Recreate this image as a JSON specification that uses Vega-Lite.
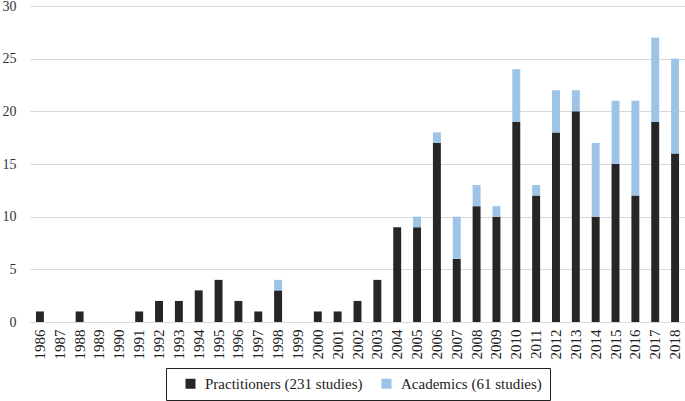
{
  "$schema": "https://vega.github.io/schema/vega-lite/v6.json",
  "width": 655,
  "height": 316,
  "autosize": "none",
  "padding": {"left": 30, "top": 6, "right": 0, "bottom": 79},
  "background": "white",
  "config": {
    "view": {"stroke": null},
    "font": "Liberation Serif",
    "axis": {"labelFont": "Liberation Serif", "labelColor": "#333333"},
    "legend": {"labelFont": "Liberation Serif"}
  },
  "data": {
    "values": [
      {"year": "1986", "series": "Practitioners (231 studies)", "n": 1},
      {"year": "1987", "series": "Practitioners (231 studies)", "n": 0},
      {"year": "1988", "series": "Practitioners (231 studies)", "n": 1},
      {"year": "1989", "series": "Practitioners (231 studies)", "n": 0},
      {"year": "1990", "series": "Practitioners (231 studies)", "n": 0},
      {"year": "1991", "series": "Practitioners (231 studies)", "n": 1},
      {"year": "1992", "series": "Practitioners (231 studies)", "n": 2},
      {"year": "1993", "series": "Practitioners (231 studies)", "n": 2},
      {"year": "1994", "series": "Practitioners (231 studies)", "n": 3},
      {"year": "1995", "series": "Practitioners (231 studies)", "n": 4},
      {"year": "1996", "series": "Practitioners (231 studies)", "n": 2},
      {"year": "1997", "series": "Practitioners (231 studies)", "n": 1},
      {"year": "1998", "series": "Practitioners (231 studies)", "n": 3},
      {"year": "1999", "series": "Practitioners (231 studies)", "n": 0},
      {"year": "2000", "series": "Practitioners (231 studies)", "n": 1},
      {"year": "2001", "series": "Practitioners (231 studies)", "n": 1},
      {"year": "2002", "series": "Practitioners (231 studies)", "n": 2},
      {"year": "2003", "series": "Practitioners (231 studies)", "n": 4},
      {"year": "2004", "series": "Practitioners (231 studies)", "n": 9},
      {"year": "2005", "series": "Practitioners (231 studies)", "n": 9},
      {"year": "2006", "series": "Practitioners (231 studies)", "n": 17},
      {"year": "2007", "series": "Practitioners (231 studies)", "n": 6},
      {"year": "2008", "series": "Practitioners (231 studies)", "n": 11},
      {"year": "2009", "series": "Practitioners (231 studies)", "n": 10},
      {"year": "2010", "series": "Practitioners (231 studies)", "n": 19},
      {"year": "2011", "series": "Practitioners (231 studies)", "n": 12},
      {"year": "2012", "series": "Practitioners (231 studies)", "n": 18},
      {"year": "2013", "series": "Practitioners (231 studies)", "n": 20},
      {"year": "2014", "series": "Practitioners (231 studies)", "n": 10},
      {"year": "2015", "series": "Practitioners (231 studies)", "n": 15},
      {"year": "2016", "series": "Practitioners (231 studies)", "n": 12},
      {"year": "2017", "series": "Practitioners (231 studies)", "n": 19},
      {"year": "2018", "series": "Practitioners (231 studies)", "n": 16},
      {"year": "1998", "series": "Academics (61 studies)", "n": 1},
      {"year": "2005", "series": "Academics (61 studies)", "n": 1},
      {"year": "2006", "series": "Academics (61 studies)", "n": 1},
      {"year": "2007", "series": "Academics (61 studies)", "n": 4},
      {"year": "2008", "series": "Academics (61 studies)", "n": 2},
      {"year": "2009", "series": "Academics (61 studies)", "n": 1},
      {"year": "2010", "series": "Academics (61 studies)", "n": 5},
      {"year": "2011", "series": "Academics (61 studies)", "n": 1},
      {"year": "2012", "series": "Academics (61 studies)", "n": 4},
      {"year": "2013", "series": "Academics (61 studies)", "n": 2},
      {"year": "2014", "series": "Academics (61 studies)", "n": 7},
      {"year": "2015", "series": "Academics (61 studies)", "n": 6},
      {"year": "2016", "series": "Academics (61 studies)", "n": 9},
      {"year": "2017", "series": "Academics (61 studies)", "n": 8},
      {"year": "2018", "series": "Academics (61 studies)", "n": 9}
    ]
  },
  "mark": {"type": "bar"},
  "encoding": {
    "x": {
      "field": "year",
      "type": "ordinal",
      "scale": {"paddingInner": 0.6, "paddingOuter": 0.3},
      "axis": {
        "title": null,
        "labelAngle": 270,
        "labelPadding": 7,
        "labelFontSize": 15,
        "ticks": false,
        "domainColor": "#d9d9d9",
        "labelColor": "#222222"
      }
    },
    "y": {
      "field": "n",
      "type": "quantitative",
      "stack": "zero",
      "scale": {"domain": [0, 30], "nice": false},
      "axis": {
        "title": null,
        "values": [0, 5, 10, 15, 20, 25, 30],
        "ticks": false,
        "domain": false,
        "labelPadding": 14,
        "labelFontSize": 14,
        "gridColor": "#d9d9d9",
        "gridWidth": 1,
        "labelColor": "#333333"
      }
    },
    "color": {
      "field": "series",
      "type": "nominal",
      "scale": {
        "domain": ["Practitioners (231 studies)", "Academics (61 studies)"],
        "range": ["#262626", "#9dc3e6"]
      },
      "legend": {
        "title": null,
        "orient": "none",
        "direction": "horizontal",
        "legendX": 136,
        "legendY": 362,
        "symbolType": "square",
        "symbolSize": 100,
        "symbolStrokeWidth": 0,
        "symbolOffset": 9,
        "labelFontSize": 15,
        "labelColor": "#222222",
        "labelOffset": 7,
        "columnPadding": 7,
        "padding": 8,
        "strokeColor": "#222222",
        "labelLimit": 400
      }
    },
    "order": {"field": "series", "sort": "descending"}
  }
}
